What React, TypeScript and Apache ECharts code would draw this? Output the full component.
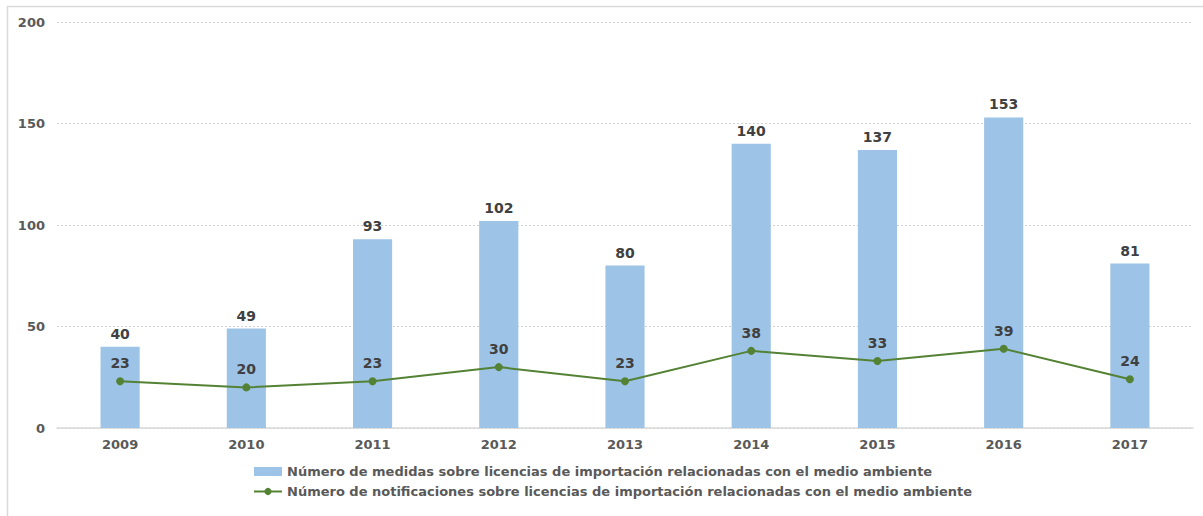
import React, { useEffect, useRef } from "react";
import * as echarts from "echarts";

const years = ["2009", "2010", "2011", "2012", "2013", "2014", "2015", "2016", "2017"];
const medidas = [40, 49, 93, 102, 80, 140, 137, 153, 81];
const notificaciones = [23, 20, 23, 30, 23, 38, 33, 39, 24];
const seriesNames = [
  "Número de medidas sobre licencias de importación relacionadas con el medio ambiente",
  "Número de notificaciones sobre licencias de importación relacionadas con el medio ambiente",
];

const FONT = "DejaVu Sans";

export default function App() {
  const ref = useRef<HTMLDivElement>(null);
  useEffect(() => {
    const chart = echarts.init(ref.current!, null, { renderer: "svg" });
    chart.setOption({
      animation: false,
      backgroundColor: "#ffffff",
      textStyle: { fontFamily: FONT },
      graphic: [
        {
          type: "rect",
          shape: { x: 7.5, y: 6.5, width: 1200, height: 520 },
          style: { fill: "none", stroke: "#d9d9d9", lineWidth: 1.5 },
          silent: true,
        },
      ],
      grid: { left: 57, right: 10, top: 22, bottom: 88, containLabel: false },
      legend: {
        left: 248,
        top: 460,
        orient: "vertical",
        itemGap: 7,
        itemWidth: 28,
        itemHeight: 9,
        textStyle: { fontFamily: FONT, fontSize: 13, fontWeight: "bold", color: "#595959" },
        data: [
          { name: seriesNames[0], icon: "rect" },
          { name: seriesNames[1] },
        ],
      },
      xAxis: {
        type: "category",
        data: years,
        axisLine: { lineStyle: { color: "#d9d9d9", width: 1.5 } },
        axisTick: { show: false },
        axisLabel: { fontFamily: FONT, fontSize: 13, fontWeight: "bold", color: "#595959", margin: 10 },
      },
      yAxis: {
        type: "value",
        min: 0,
        max: 200,
        interval: 50,
        axisLine: { show: false },
        axisTick: { show: false },
        splitLine: { lineStyle: { color: "#d0d0d0", type: [2, 2], width: 1 } },
        axisLabel: { fontFamily: FONT, fontSize: 13, fontWeight: "bold", color: "#595959", margin: 12 },
      },
      series: [
        {
          name: seriesNames[0],
          type: "bar",
          data: medidas,
          barWidth: "31%",
          itemStyle: { color: "#9dc3e6" },
          label: {
            show: true,
            position: "top",
            distance: 6,
            fontFamily: FONT,
            fontSize: 14,
            fontWeight: "bold",
            color: "#404040",
          },
        },
        {
          name: seriesNames[1],
          type: "line",
          data: notificaciones,
          symbol: "circle",
          symbolSize: 8,
          lineStyle: { color: "#548235", width: 2 },
          itemStyle: { color: "#548235" },
          label: {
            show: true,
            position: "top",
            distance: 7,
            fontFamily: FONT,
            fontSize: 14,
            fontWeight: "bold",
            color: "#404040",
          },
        },
      ],
    });
    return () => chart.dispose();
  }, []);
  return <div ref={ref} style={{ position: "fixed", left: 0, top: 0, width: 1203, height: 516 }} />;
}
